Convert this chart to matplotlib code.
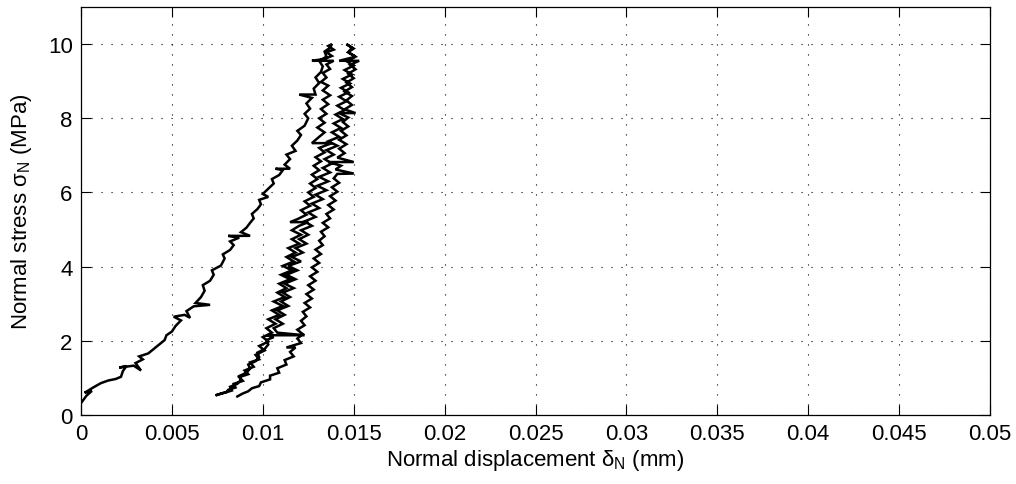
import numpy as np
import matplotlib
matplotlib.use("Agg")
from matplotlib import pyplot as plt

# loading 1 (left branch)
load1_x = [0.0000, 0.0003, 0.0006, 0.0002, 0.0007, 0.0011, 0.0015, 0.0019, 0.0022, 0.0023,
           0.0025, 0.0021, 0.0029, 0.0033, 0.0030, 0.0034, 0.0032, 0.0037, 0.0040, 0.0043,
           0.0046, 0.0047, 0.0050, 0.0052, 0.0055, 0.0051, 0.0057, 0.0060, 0.0058, 0.0062,
           0.0071, 0.0063, 0.0066, 0.0068, 0.0067, 0.0071, 0.0073, 0.0072, 0.0077, 0.0079,
           0.0078, 0.0082, 0.0084, 0.0082, 0.0087, 0.0081, 0.0093, 0.0088, 0.0091, 0.0093,
           0.0095, 0.0094, 0.0097, 0.0099, 0.0098, 0.0103, 0.0100, 0.0103, 0.0106, 0.0105,
           0.0109, 0.0111, 0.0107, 0.0115, 0.0112, 0.0115, 0.0113, 0.0118, 0.0116, 0.0119,
           0.0121, 0.0119, 0.0123, 0.0125, 0.0123, 0.0126, 0.0124, 0.0127, 0.0120, 0.0129,
           0.0128, 0.0131, 0.0129, 0.0132, 0.0133, 0.0131, 0.0135, 0.0134, 0.0137, 0.0138]
load1_y = [0.32, 0.52, 0.65, 0.60, 0.75, 0.86, 0.93, 0.97, 1.03, 1.18,
           1.32, 1.28, 1.33, 1.20, 1.40, 1.50, 1.58, 1.66, 1.78, 1.90,
           2.02, 2.15, 2.25, 2.40, 2.55, 2.65, 2.70, 2.62, 2.80, 2.93,
           2.97, 3.02, 3.18, 3.35, 3.50, 3.62, 3.78, 3.90, 4.03, 4.22,
           4.33, 4.45, 4.58, 4.68, 4.78, 4.83, 4.83, 4.93, 5.05, 5.18,
           5.30, 5.42, 5.55, 5.68, 5.80, 5.88, 5.96, 6.10, 6.24, 6.36,
           6.47, 6.60, 6.64, 6.64, 6.75, 6.90, 7.02, 7.12, 7.26, 7.40,
           7.55, 7.66, 7.80, 8.00, 8.12, 8.26, 8.40, 8.55, 8.64, 8.64,
           8.80, 8.95, 9.10, 9.25, 9.40, 9.55, 9.66, 9.80, 9.90, 10.00]

# unloading 1
unload1_x = [0.0138, 0.0136, 0.0139, 0.0135, 0.0138, 0.0134, 0.0127, 0.0139, 0.0135, 0.0137,
             0.0133, 0.0135, 0.0132, 0.0136, 0.0133, 0.0137, 0.0133, 0.0136, 0.0132, 0.0135,
             0.0131, 0.0134, 0.0130, 0.0134, 0.0131, 0.0127, 0.0138, 0.0131, 0.0134, 0.0129,
             0.0132, 0.0128, 0.0131, 0.0127, 0.0130, 0.0126, 0.0129, 0.0125, 0.0128, 0.0123,
             0.0126, 0.0121, 0.0124, 0.0119, 0.0115, 0.0125, 0.0120, 0.0116, 0.0121, 0.0116,
             0.0120, 0.0114, 0.0118, 0.0113, 0.0117, 0.0111, 0.0116, 0.0110, 0.0115, 0.0109,
             0.0113, 0.0108, 0.0112, 0.0106, 0.0111, 0.0105, 0.0109, 0.0103, 0.0107, 0.0102,
             0.0105, 0.0100, 0.0103, 0.0098, 0.0101, 0.0096, 0.0098, 0.0093, 0.0095, 0.0090,
             0.0092, 0.0087, 0.0089, 0.0084, 0.0085, 0.0081, 0.0080, 0.0077, 0.0074]
unload1_y = [10.00, 9.95, 9.85, 9.78, 9.68, 9.60, 9.55, 9.55, 9.45, 9.33,
             9.22, 9.10, 8.98, 8.88, 8.75, 8.62, 8.50, 8.38, 8.25, 8.12,
             8.00, 7.88, 7.75, 7.62, 7.50, 7.33, 7.33, 7.20, 7.08, 6.95,
             6.84, 6.72, 6.60, 6.48, 6.36, 6.24, 6.12, 6.00, 5.88, 5.76,
             5.64, 5.52, 5.40, 5.28, 5.20, 5.20, 5.10, 4.98, 4.86, 4.74,
             4.62, 4.50, 4.38, 4.26, 4.14, 4.02, 3.90, 3.78, 3.66, 3.54,
             3.42, 3.30, 3.18, 3.06, 2.94, 2.82, 2.70, 2.58, 2.46, 2.34,
             2.22, 2.10, 1.98, 1.86, 1.74, 1.62, 1.50, 1.42, 1.30, 1.20,
             1.10, 1.02, 0.92, 0.84, 0.74, 0.68, 0.62, 0.58, 0.53]

# reloading 2
reload2_x = [0.0074, 0.0079, 0.0083, 0.0082, 0.0086, 0.0088, 0.0087, 0.0091, 0.0093, 0.0092,
             0.0096, 0.0098, 0.0097, 0.0101, 0.0103, 0.0102, 0.0106, 0.0102, 0.0123, 0.0108,
             0.0106, 0.0111, 0.0107, 0.0112, 0.0108, 0.0114, 0.0110, 0.0115, 0.0111, 0.0117,
             0.0112, 0.0118, 0.0113, 0.0119, 0.0114, 0.0121, 0.0116, 0.0122, 0.0118, 0.0124,
             0.0120, 0.0125, 0.0121, 0.0127, 0.0123, 0.0129, 0.0125, 0.0131, 0.0127, 0.0133,
             0.0129, 0.0135, 0.0130, 0.0136, 0.0131, 0.0137, 0.0133, 0.0138, 0.0134, 0.0139,
             0.0135, 0.0141, 0.0136, 0.0142, 0.0138, 0.0143, 0.0139, 0.0144, 0.0140, 0.0145,
             0.0141, 0.0146, 0.0142, 0.0147, 0.0143, 0.0148, 0.0144, 0.0149, 0.0145, 0.0150,
             0.0146, 0.0151, 0.0147, 0.0149, 0.0146]
reload2_y = [0.53, 0.60, 0.66, 0.76, 0.84, 0.95, 1.05, 1.14, 1.25, 1.36,
             1.45, 1.56, 1.68, 1.78, 1.90, 2.02, 2.10, 2.15, 2.15, 2.22,
             2.34, 2.46, 2.58, 2.70, 2.82, 2.94, 3.06, 3.18, 3.30, 3.42,
             3.54, 3.66, 3.78, 3.90, 4.02, 4.14, 4.26, 4.38, 4.50, 4.62,
             4.74, 4.86, 4.98, 5.10, 5.22, 5.34, 5.46, 5.58, 5.70, 5.82,
             5.94, 6.06, 6.18, 6.30, 6.42, 6.54, 6.66, 6.78, 6.90, 7.02,
             7.14, 7.26, 7.38, 7.50, 7.62, 7.74, 7.86, 7.98, 8.10, 8.22,
             8.34, 8.46, 8.58, 8.70, 8.82, 8.94, 9.06, 9.18, 9.30, 9.42,
             9.54, 9.66, 9.78, 9.90, 10.00]

# unloading 2 (right branch)
unload2_x = [0.0146, 0.0150, 0.0147, 0.0151, 0.0142, 0.0153, 0.0148, 0.0151, 0.0147, 0.0150,
             0.0146, 0.0149, 0.0145, 0.0149, 0.0146, 0.0149, 0.0145, 0.0151, 0.0142, 0.0147,
             0.0144, 0.0147, 0.0143, 0.0146, 0.0142, 0.0146, 0.0142, 0.0145, 0.0141, 0.0150,
             0.0136, 0.0143, 0.0140, 0.0150, 0.0141, 0.0139, 0.0142, 0.0138, 0.0141, 0.0137,
             0.0140, 0.0136, 0.0139, 0.0135, 0.0137, 0.0133, 0.0136, 0.0132, 0.0134, 0.0131,
             0.0133, 0.0129, 0.0132, 0.0128, 0.0131, 0.0127, 0.0130, 0.0126, 0.0129, 0.0125,
             0.0128, 0.0124, 0.0127, 0.0123, 0.0126, 0.0122, 0.0124, 0.0121, 0.0123, 0.0119,
             0.0122, 0.0119, 0.0121, 0.0113, 0.0118, 0.0115, 0.0117, 0.0112, 0.0113, 0.0108,
             0.0109, 0.0104, 0.0104, 0.0099, 0.0098, 0.0094, 0.0092, 0.0089, 0.0086]
unload2_y = [10.00, 9.88, 9.78, 9.66, 9.55, 9.55, 9.44, 9.32, 9.20, 9.08,
             8.96, 8.84, 8.72, 8.60, 8.48, 8.36, 8.24, 8.14, 8.14, 8.02,
             7.90, 7.78, 7.66, 7.54, 7.42, 7.30, 7.18, 7.06, 6.94, 6.82,
             6.82, 6.72, 6.62, 6.51, 6.50, 6.38, 6.26, 6.14, 6.02, 5.90,
             5.78, 5.66, 5.54, 5.42, 5.30, 5.18, 5.06, 4.94, 4.82, 4.70,
             4.58, 4.46, 4.34, 4.22, 4.10, 3.98, 3.86, 3.74, 3.62, 3.50,
             3.38, 3.26, 3.14, 3.02, 2.90, 2.78, 2.66, 2.54, 2.42, 2.30,
             2.18, 2.06, 1.94, 1.82, 1.82, 1.70, 1.58, 1.48, 1.36, 1.26,
             1.14, 1.06, 0.96, 0.88, 0.78, 0.72, 0.64, 0.58, 0.50]

x_ticks = [0, 0.005, 0.01, 0.015, 0.02, 0.025, 0.03, 0.035, 0.04, 0.045, 0.05]
x_tick_labels = ['0', '0.005', '0.01', '0.015', '0.02', '0.025', '0.03', '0.035', '0.04', '0.045', '0.05']
y_ticks = [0, 2, 4, 6, 8, 10]

plt.rcParams['font.family'] = ['Liberation Sans', 'DejaVu Sans']
plt.rcParams['mathtext.fontset'] = 'custom'
plt.rcParams['mathtext.rm'] = 'Liberation Sans'
plt.rcParams['mathtext.it'] = 'Liberation Sans:italic'

fig = plt.figure(figsize=(10.16, 4.85), dpi=100)
ax = fig.add_axes([81 / 1016, 69 / 485, 909 / 1016, 408 / 485])

x = np.concatenate([load1_x, unload1_x, reload2_x, unload2_x])
y = np.concatenate([load1_y, unload1_y, reload2_y, unload2_y])
ax.plot(x, y, color='black', linewidth=1.8, solid_joinstyle='miter')

ax.set_xlim(0, 0.05)
ax.set_ylim(0, 11)
ax.set_xticks(x_ticks)
ax.set_xticklabels(x_tick_labels)
ax.set_yticks(y_ticks)

ax.grid(True, color='black', linestyle=(0, (1, 8)), linewidth=0.8)
ax.tick_params(direction='in', length=7, width=0.8, top=True, right=True,
               labelsize=16, pad=6)
for s in ax.spines.values():
    s.set_linewidth(0.9)

ax.set_xlabel(r'Normal displacement $\mathrm{\delta_N}$ (mm)', fontsize=16, labelpad=2)
ax.set_ylabel(r'Normal stress $\mathrm{\sigma_N}$ (MPa)', fontsize=16, labelpad=10)

fig.savefig('out.png', dpi=100)
